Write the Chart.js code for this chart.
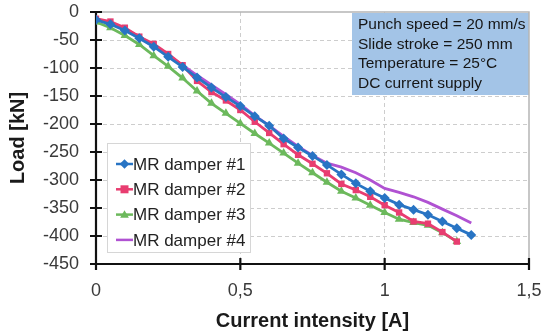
<!DOCTYPE html>
<html>
<head>
<meta charset="utf-8">
<script src="https://cdn.jsdelivr.net/npm/chart.js@4.4.1/dist/chart.umd.min.js"></script>
<style>
  html, body { margin: 0; padding: 0; background: #fff; }
  #wrap { position: relative; width: 548px; height: 331px; }
</style>
</head>
<body>
<div id="wrap"><canvas id="chart" width="548" height="331"></canvas></div>
<script>
// ---------- Data ----------
const current = [0, 0.05, 0.10, 0.15, 0.20, 0.25, 0.30, 0.35, 0.40, 0.45, 0.50, 0.55, 0.60,
  0.65, 0.70, 0.75, 0.80, 0.85, 0.90, 0.95, 1.00, 1.05, 1.10, 1.15, 1.20, 1.25, 1.30];

const damper1 = [-14, -22, -33, -47, -62, -80, -98, -117, -135, -152, -168, -186, -203,
  -226, -242, -257, -273, -290, -306, -320, -332, -344, -353, -362, -374, -386, -398];
const damper2 = [-12, -17, -28, -44, -57, -75, -95, -123, -143, -158, -175, -196, -216,
  -236, -255, -271, -288, -307, -318, -330, -345, -358, -374, -378, -393, -410];
const damper3 = [-18, -28, -42, -58, -78, -97, -118, -141, -163, -181, -199, -217, -234,
  -252, -270, -287, -304, -320, -332, -345, -358, -370, -376, -381, -394, -410];
const damper4 = [-12, -20, -30, -44, -60, -77, -95, -113, -130, -147, -165, -185, -203,
  -222, -240, -256, -270, -277, -287, -300, -315, -322, -330, -340, -352, -364, -377];

const seriesNames = ["MR damper #1", "MR damper #2", "MR damper #3", "MR damper #4"];
const xTicks = [0, 0.5, 1, 1.5];
const yTicks = [0, -50, -100, -150, -200, -250, -300, -350, -400, -450];
const infoLines = ["Punch speed = 20 mm/s", "Slide stroke = 250 mm", "Temperature = 25°C", "DC current supply"];

// ---------- Helpers ----------
const FONT = "'Liberation Sans', Arial, sans-serif";
function toPoints(values) { return values.map((v, i) => ({ x: current[i], y: v })); }
function comma(v) { return String(v).replace(".", ","); }

function drawMarker(ctx, style, x, y, r) {
  ctx.beginPath();
  if (style === "rectRot") {
    ctx.moveTo(x, y - r * 1.2); ctx.lineTo(x + r * 1.2, y); ctx.lineTo(x, y + r * 1.2); ctx.lineTo(x - r * 1.2, y);
  } else if (style === "rect") {
    ctx.rect(x - r, y - r, r * 2, r * 2);
  } else if (style === "triangle") {
    ctx.moveTo(x, y - r * 1.1); ctx.lineTo(x + r * 1.1, y + r * 0.8); ctx.lineTo(x - r * 1.1, y + r * 0.8);
  } else {
    return;
  }
  ctx.closePath();
  ctx.fill();
}

// ---------- Plugin: axes, info box, legend ----------
const decorPlugin = {
  id: "decor",
  beforeDatasetsDraw(chart) {
    const { ctx, chartArea: a, scales } = chart;
    ctx.save();
    // info box
    ctx.fillStyle = "#a3c4e7";
    ctx.fillRect(352, a.top + 1, a.right - 352, 82);
    ctx.fillStyle = "#161616";
    ctx.font = "15.5px " + FONT;
    ctx.textBaseline = "middle";
    infoLines.forEach((t, i) => ctx.fillText(t, 358, a.top + 13 + i * 19.5));

    // plot border top / right
    ctx.strokeStyle = "#b5b5b5";
    ctx.lineWidth = 1.5;
    ctx.beginPath();
    ctx.moveTo(a.left, a.top); ctx.lineTo(a.right, a.top); ctx.lineTo(a.right, a.bottom);
    ctx.stroke();

    // black axes with crossing ticks
    ctx.strokeStyle = "#111";
    ctx.lineWidth = 2.2;
    ctx.beginPath();
    ctx.moveTo(a.left, a.top); ctx.lineTo(a.left, a.bottom); ctx.lineTo(a.right, a.bottom);
    yTicks.forEach(v => {
      const y = scales.y.getPixelForValue(v);
      ctx.moveTo(a.left - 6, y); ctx.lineTo(a.left + 6, y);
    });
    xTicks.forEach(v => {
      const x = scales.x.getPixelForValue(v);
      ctx.moveTo(x, a.bottom - 6); ctx.lineTo(x, a.bottom + 6);
    });
    ctx.stroke();
    ctx.restore();
  },
  afterDraw(chart) {
    const { ctx } = chart;
    ctx.save();
    ctx.fillStyle = "#fff";
    ctx.strokeStyle = "#d6d6d6";
    ctx.lineWidth = 1;
    ctx.fillRect(107, 143, 143, 109);
    ctx.strokeRect(107.5, 143.5, 143, 109);
    ctx.font = "17px " + FONT;
    ctx.textBaseline = "middle";
    chart.data.datasets.forEach((ds, i) => {
      const y = 164 + i * 25.3;
      ctx.strokeStyle = ds.borderColor;
      ctx.lineWidth = 2.5;
      ctx.beginPath(); ctx.moveTo(116, y); ctx.lineTo(133, y); ctx.stroke();
      ctx.fillStyle = ds.pointBackgroundColor || ds.borderColor;
      drawMarker(ctx, ds.pointStyle, 124.5, y, 4);
      ctx.fillStyle = "#222";
      ctx.fillText(ds.label, 133, y + 1);
    });
    ctx.restore();
  }
};

// ---------- Chart ----------
const colors = ["#2874c4", "#e83d70", "#6cb95c", "#b052d2"];
const styles = ["rectRot", "rect", "triangle", false];
const radii = [5, 4.5, 5, 0];
const values = [damper1, damper2, damper3, damper4];

const datasets = values.map((vals, i) => ({
  label: seriesNames[i],
  data: toPoints(vals),
  borderColor: colors[i],
  backgroundColor: colors[i],
  pointBackgroundColor: colors[i],
  pointBorderColor: colors[i],
  borderWidth: 2.8,
  pointStyle: styles[i],
  pointRadius: radii[i],
  pointBorderWidth: 0,
  tension: 0
}));

const clear = "rgba(0,0,0,0)";

new Chart(document.getElementById("chart"), {
  type: "line",
  data: { datasets },
  options: {
    responsive: false,
    animation: false,
    layout: { padding: { top: 12, right: 19, left: 0, bottom: 0 } },
    plugins: { legend: { display: false }, tooltip: { enabled: false } },
    scales: {
      x: {
        type: "linear",
        min: 0, max: 1.5,
        afterBuildTicks: s => { s.ticks = xTicks.map(v => ({ value: v })); },
        afterFit: s => { s.height = 67; },
        ticks: { callback: v => comma(v), font: { family: FONT, size: 18 }, color: "#3a3a3a", padding: 0, maxRotation: 0 },
        grid: {
          drawTicks: true, tickLength: 16, tickColor: clear,
          lineWidth: 1,
          color: c => (c.tick && (c.tick.value === 0 || c.tick.value === 1.5)) ? clear : "#cdcdcd"
        },
        border: { display: false, dash: [4, 3] },
        title: { display: true, text: "Current intensity [A]", font: { family: FONT, size: 20, weight: "bold", lineHeight: 1 }, color: "#1a1a1a", padding: { top: 0, bottom: 0 } }
      },
      y: {
        min: -450, max: 0,
        afterBuildTicks: s => { s.ticks = yTicks.map(v => ({ value: v })); },
        afterFit: s => { s.width = 96; },
        ticks: { font: { family: FONT, size: 18 }, color: "#3a3a3a", padding: 0 },
        grid: {
          drawTicks: true, tickLength: 17, tickColor: clear,
          lineWidth: 1,
          color: c => (c.tick && (c.tick.value === 0 || c.tick.value === -450)) ? clear : "#cdcdcd"
        },
        border: { display: false, dash: [4, 3] },
        title: { display: true, text: "Load [kN]", font: { family: FONT, size: 20, weight: "bold", lineHeight: 1 }, color: "#1a1a1a", padding: { top: 8, bottom: 0 } }
      }
    }
  },
  plugins: [decorPlugin]
});
</script>
</body>
</html>
